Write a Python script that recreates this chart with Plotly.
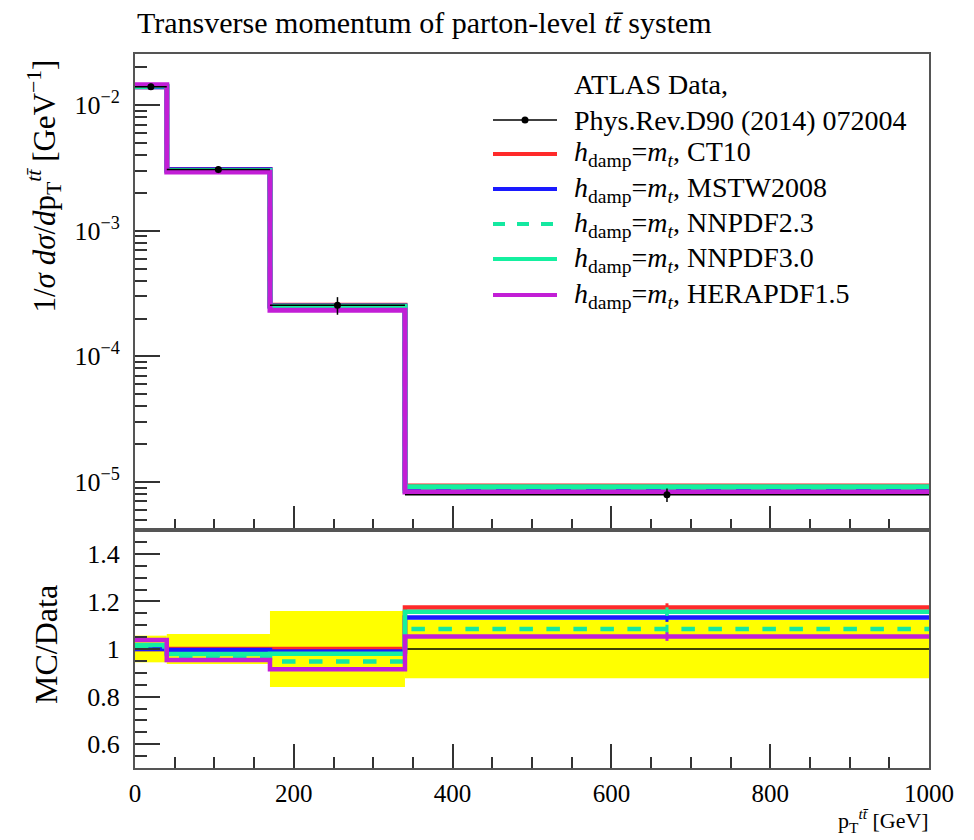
import plotly.graph_objects as go

# ---------------- data ----------------
bin_edges = [0, 40, 170, 340, 1000]
bin_centers = [20, 105, 255, 670]
bin_halfwidths = [20, 65, 85, 330]

data_values = [1.40e-2, 3.07e-3, 2.55e-4, 7.9e-6]
data_rel_err = [0.056, 0.063, 0.160, 0.123]

mc_names = ["CT10", "MSTW2008", "NNPDF2.3", "NNPDF3.0", "HERAPDF1.5"]
mc_main = {
    "CT10":       [1.40e-2, 3.07e-3, 2.55e-4, 9.27e-6],
    "MSTW2008":   [1.40e-2, 3.06e-3, 2.52e-4, 8.94e-6],
    "NNPDF2.3":   [1.41e-2, 2.97e-3, 2.41e-4, 8.56e-6],
    "NNPDF3.0":   [1.42e-2, 3.01e-3, 2.50e-4, 9.14e-6],
    "HERAPDF1.5": [1.45e-2, 2.93e-3, 2.33e-4, 8.31e-6],
}
mc_ratio = {
    "CT10":       [1.000, 1.000, 1.000, 1.174],
    "MSTW2008":   [1.000, 0.996, 0.990, 1.132],
    "NNPDF2.3":   [1.010, 0.968, 0.947, 1.084],
    "NNPDF3.0":   [1.017, 0.979, 0.980, 1.157],
    "HERAPDF1.5": [1.038, 0.954, 0.915, 1.052],
}
mc_ratio_err = [0.003, 0.003, 0.005, 0.018]

mc_colors = {
    "CT10": "#ff2a2a",
    "MSTW2008": "#1a1aff",
    "NNPDF2.3": "#14e8a0",
    "NNPDF3.0": "#14f0a0",
    "HERAPDF1.5": "#c21ed6",
}
mc_dash = {"CT10": "solid", "MSTW2008": "solid", "NNPDF2.3": "dash",
           "NNPDF3.0": "solid", "HERAPDF1.5": "solid"}

y_tickvals = [1e-5, 1e-4, 1e-3, 1e-2]
y_ticktext = ["10<sup>−5</sup>", "10<sup>−4</sup>", "10<sup>−3</sup>", "10<sup>−2</sup>"]
r_tickvals = [0.6, 0.8, 1.0, 1.2, 1.4]
r_ticktext = ["0.6", "0.8", "1", "1.2", "1.4"]
x_tickvals = [0, 200, 400, 600, 800, 1000]
x_ticktext = ["0", "200", "400", "600", "800", "1000"]

FONT = "Liberation Serif"
W, H = 974, 840
PL, PR, PT, PB = 135, 929, 54, 768


def px(x):
    return (x - PL) / (PR - PL)


def py(y):
    return (PB - y) / (PB - PT)


fig = go.Figure()

# ---------------- ratio panel ----------------
band_base = [1 - e for e in data_rel_err]
band_height = [2 * e for e in data_rel_err]
fig.add_trace(go.Bar(x=bin_centers, y=band_height, base=band_base,
                     width=[2 * h for h in bin_halfwidths],
                     marker=dict(color="#ffff00", line=dict(width=0)),
                     xaxis="x2", yaxis="y2", showlegend=False, hoverinfo="skip"))
fig.add_trace(go.Scatter(x=[bin_edges[0], bin_edges[-1]], y=[1, 1], mode="lines",
                         line=dict(color="black", width=1.5),
                         xaxis="x2", yaxis="y2", showlegend=False))

for n in mc_names:
    v = mc_ratio[n]
    fig.add_trace(go.Scatter(x=bin_edges, y=v + [v[-1]], mode="lines",
                             line=dict(color=mc_colors[n], width=4.5, shape="hv",
                                       dash=mc_dash[n]),
                             xaxis="x2", yaxis="y2", showlegend=False))
    fig.add_trace(go.Scatter(x=bin_centers, y=v, mode="markers",
                             marker=dict(size=1, color=mc_colors[n]),
                             error_y=dict(type="data", array=mc_ratio_err,
                                          color=mc_colors[n], thickness=3, width=0),
                             xaxis="x2", yaxis="y2", showlegend=False))

# ---------------- main panel ----------------
for n in mc_names:
    v = mc_main[n]
    fig.add_trace(go.Scatter(x=bin_edges, y=v + [v[-1]], mode="lines",
                             line=dict(color=mc_colors[n], width=5, shape="hv",
                                       dash=mc_dash[n]),
                             xaxis="x", yaxis="y", showlegend=False, name=n))

fig.add_trace(go.Scatter(x=bin_centers, y=data_values, mode="markers",
                         marker=dict(color="black", size=7),
                         error_x=dict(type="data", array=bin_halfwidths, color="black",
                                      thickness=1.5, width=0),
                         error_y=dict(type="data",
                                      array=[v * e for v, e in zip(data_values, data_rel_err)],
                                      color="black", thickness=1.5, width=0),
                         xaxis="x", yaxis="y", showlegend=False, name="ATLAS Data"))

# ---------------- axes ----------------
frame = dict(showline=True, linecolor="#555555", linewidth=2, mirror=True,
             showgrid=False, zeroline=False)
TICKFONT = dict(size=25)
fig.update_layout(
    width=W, height=H,
    margin=dict(l=PL, r=W - PR, t=PT, b=H - PB),
    paper_bgcolor="white", plot_bgcolor="white",
    font=dict(family=FONT, size=22, color="black"),
    barmode="overlay",
    xaxis=dict(domain=[0, 1], range=[0, 1000], anchor="y", showticklabels=False,
               tickvals=x_tickvals, ticks="inside", ticklen=24, tickwidth=1.5,
               tickcolor="#333333",
               minor=dict(ticks="inside", ticklen=11, dtick=50, tick0=0,
                          tickcolor="#333333", tickwidth=1.5),
               **frame),
    yaxis=dict(domain=[1 / 3, 1], type="log", range=[-5.383, -1.593], anchor="x",
               tickvals=y_tickvals, ticktext=y_ticktext, ticks="inside", ticklen=25,
               tickwidth=1.5, tickcolor="#333333", ticklabelstandoff=8,
               tickfont=dict(size=26),
               minor=dict(ticks="inside", ticklen=12, dtick="D1",
                          tickcolor="#333333", tickwidth=1.5),
               **frame),
    xaxis2=dict(domain=[0, 1], range=[0, 1000], anchor="y2",
                tickvals=x_tickvals, ticktext=x_ticktext, ticks="inside", ticklen=24,
                tickwidth=1.5, tickcolor="#333333", ticklabelstandoff=2,
                tickfont=TICKFONT,
                minor=dict(ticks="inside", ticklen=11, dtick=50, tick0=0,
                           tickcolor="#333333", tickwidth=1.5),
                **frame),
    yaxis2=dict(domain=[0, 1 / 3], range=[0.5, 1.5], anchor="x2",
                tickvals=r_tickvals, ticktext=r_ticktext, ticks="inside", ticklen=25,
                tickwidth=1.5, tickcolor="#333333", ticklabelstandoff=8,
                tickfont=dict(size=26),
                minor=dict(ticks="inside", ticklen=12, dtick=0.05, tick0=0,
                           tickcolor="#333333", tickwidth=1.5),
                **frame),
    title=dict(text="Transverse momentum of parton-level <i>tt̄</i> system",
               xref="container", yref="container", x=137 / W, xanchor="left",
               y=1 - 22 / H, yanchor="middle", font=dict(size=30)),
)

annotations = []
shapes = []
# axis labels
annotations.append(dict(
    text="1/<i>σ</i> <i>dσ</i>/<i>d</i>p<sub>T</sub><sup><i>tt̄</i></sup> [GeV<sup>−1</sup>]",
    xref="paper", yref="paper", x=px(44), y=py(58), xanchor="center", yanchor="top",
    textangle=-90, showarrow=False, font=dict(size=31)))
annotations.append(dict(
    text="MC/Data", xref="paper", yref="paper", x=px(46), y=py(645),
    xanchor="center", yanchor="middle", textangle=-90, showarrow=False,
    font=dict(size=32)))
annotations.append(dict(
    text="p<sub>T</sub><sup><i>tt̄</i></sup> [GeV]", xref="paper", yref="paper",
    x=px(931), y=py(838), xanchor="right", yanchor="bottom", showarrow=False,
    font=dict(size=22)))

# legend (manual, in paper coordinates)
legend_rows = [
    ("ATLAS Data,", None, 85),
    ("Phys.Rev.D90 (2014) 072004", "data", 120),
]
for n, yy in zip(mc_names, [154, 189, 224, 259, 295]):
    legend_rows.append(("<i>h</i><sub>damp</sub>=<i>m</i><sub><i>t</i></sub>, " + n, n, yy))

for text, key, yy in legend_rows:
    annotations.append(dict(text=text, xref="paper", yref="paper", x=px(572), y=py(yy),
                            xanchor="left", yanchor="middle", showarrow=False,
                            font=dict(size=28)))
    if key == "data":
        shapes.append(dict(type="line", xref="paper", yref="paper", x0=px(493), x1=px(557),
                           y0=py(yy), y1=py(yy), line=dict(color="black", width=1.5)))
        shapes.append(dict(type="circle", xref="paper", yref="paper", x0=px(521.5),
                           x1=px(528.5), y0=py(yy - 3.5), y1=py(yy + 3.5),
                           fillcolor="black", line=dict(color="black", width=0)))
    elif key is not None:
        shapes.append(dict(type="line", xref="paper", yref="paper", x0=px(493), x1=px(557),
                           y0=py(yy), y1=py(yy),
                           line=dict(color=mc_colors[key], width=4, dash=mc_dash[key])))

fig.update_layout(annotations=annotations, shapes=shapes)

fig.write_html("out.html")
